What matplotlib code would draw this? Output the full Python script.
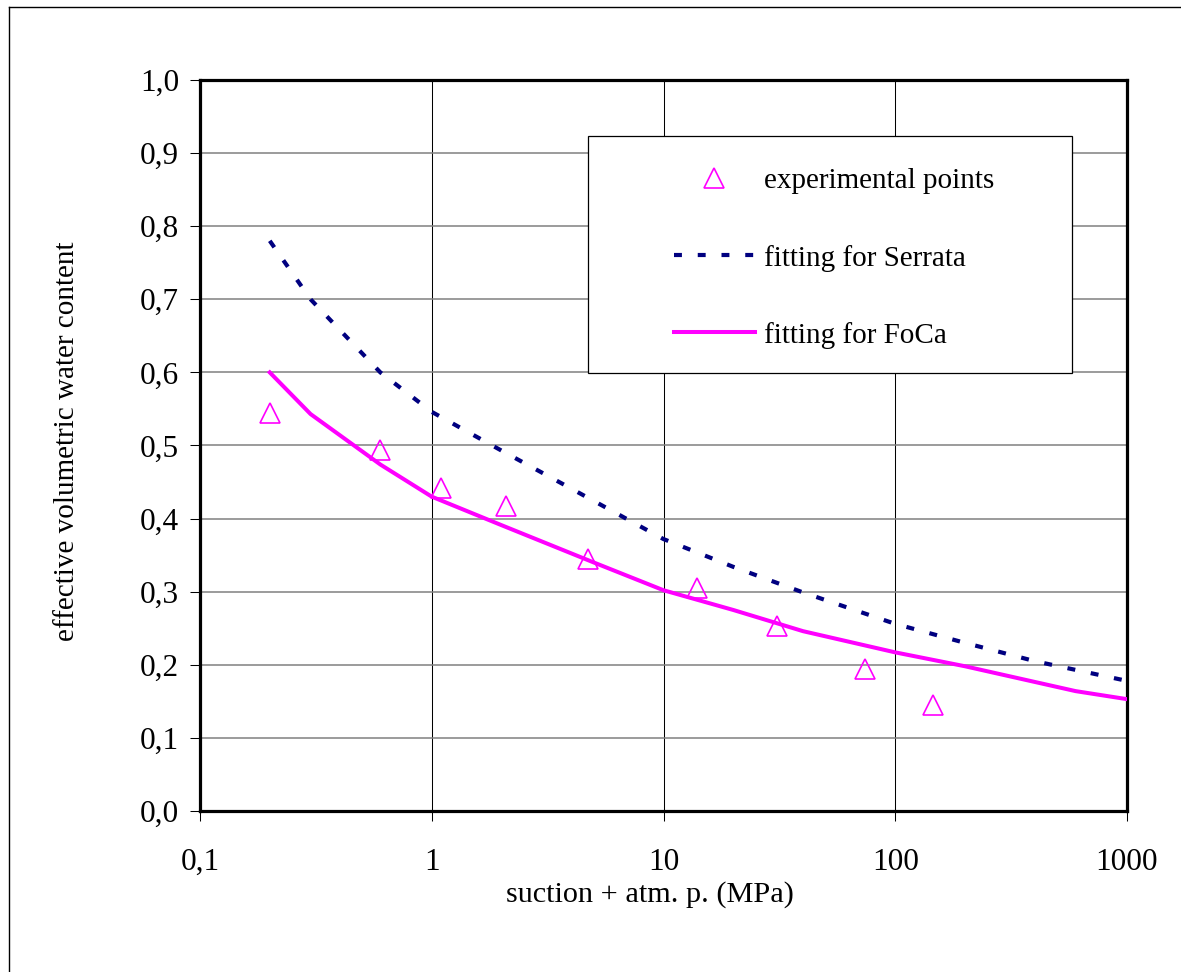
import matplotlib
matplotlib.use("Agg")
import matplotlib.pyplot as plt
from matplotlib.patches import Rectangle
from matplotlib.lines import Line2D
from matplotlib.ticker import FixedLocator, FixedFormatter, NullLocator

# --- data -------------------------------------------------------------
exp_suction = [0.2, 0.6, 1.1, 2.1, 4.7, 14.0, 31.0, 74.0, 146.0]
exp_theta = [0.545, 0.494, 0.442, 0.417, 0.345, 0.305, 0.253, 0.194, 0.145]

serrata_suction = [0.2, 0.3, 0.6, 1.0, 2.0, 4.0, 10.0, 20.0, 40.0, 100.0, 200.0, 400.0, 1000.0]
serrata_theta = [0.780, 0.700, 0.600, 0.546, 0.493, 0.441, 0.372, 0.334, 0.299, 0.256, 0.230, 0.205, 0.178]

foca_suction = [0.2, 0.3, 0.6, 1.0, 2.0, 5.0, 10.0, 20.0, 40.0, 100.0, 200.0, 600.0, 1000.0]
foca_theta = [0.600, 0.543, 0.474, 0.430, 0.391, 0.340, 0.302, 0.275, 0.246, 0.217, 0.198, 0.164, 0.153]

x_ticks = [0.1, 1, 10, 100, 1000]
x_ticklabels = ["0,1", "1", "10", "100", "1000"]
y_ticks = [0.0, 0.1, 0.2, 0.3, 0.4, 0.5, 0.6, 0.7, 0.8, 0.9, 1.0]
y_ticklabels = ["0,0", "0,1", "0,2", "0,3", "0,4", "0,5", "0,6", "0,7", "0,8", "0,9", "1,0"]

# --- figure -----------------------------------------------------------
W, H = 1181, 972
DPI = 100
plt.rcParams["font.family"] = ["Liberation Serif", "DejaVu Serif"]
FS = 21
FS_TICK = 22.5
FS_XLAB = 21.8

fig = plt.figure(figsize=(W / DPI, H / DPI), dpi=DPI)
ax = fig.add_axes([200 / W, 1 - 811 / H, 927 / W, 731 / H])

ax.set_xscale("log")
ax.set_xlim(0.1, 1000)
ax.set_ylim(0.0, 1.0)

ax.xaxis.set_major_locator(FixedLocator(x_ticks))
ax.xaxis.set_major_formatter(FixedFormatter(x_ticklabels))
ax.xaxis.set_minor_locator(NullLocator())
ax.yaxis.set_major_locator(FixedLocator(y_ticks))
ax.yaxis.set_major_formatter(FixedFormatter(y_ticklabels))

ax.tick_params(axis="both", which="major", direction="out", length=7.2,
               width=0.75, color="black", labelsize=FS_TICK)
ax.tick_params(axis="x", pad=19.5)
ax.tick_params(axis="y", pad=8)

# grid: grey horizontals, thin black verticals
ax.yaxis.grid(True, color="#808080", linewidth=1.1, zorder=0)
ax.xaxis.grid(True, color="black", linewidth=0.75, zorder=0)
ax.set_axisbelow(True)

for sp in ax.spines.values():
    sp.set_linewidth(2.3)
    sp.set_color("black")

# --- series -----------------------------------------------------------
h_exp, = ax.plot(exp_suction, exp_theta, linestyle="none", marker="^",
                 markersize=14.5, markerfacecolor="none",
                 markeredgecolor="#ff00ff", markeredgewidth=1.2,
                 label="experimental points", zorder=3)
h_ser, = ax.plot(serrata_suction, serrata_theta, color="#000080",
                 linewidth=3.0, linestyle=(0, (1.9, 3.8)),
                 dash_capstyle="butt", label="fitting for Serrata", zorder=3)
h_foc, = ax.plot(foca_suction, foca_theta, color="#ff00ff", linewidth=2.9,
                 solid_joinstyle="miter", label="fitting for FoCa", zorder=3)

# --- axis labels ------------------------------------------------------
ax.set_xlabel("suction + atm. p. (MPa)", fontsize=FS_XLAB)
ax.xaxis.set_label_coords((650 - 200) / 927, (811 - 895) / 731)
ax.xaxis.label.set_va("center")
ax.set_ylabel("effective volumetric water content", fontsize=FS)
ax.yaxis.set_label_coords((67 - 200) / 927, (811 - 441) / 731)
ax.yaxis.label.set_va("center")

# --- legend -----------------------------------------------------------
frame = Rectangle(((588 - 200) / 927, (811 - 373) / 731), 484 / 927, 237 / 731,
                  transform=ax.transAxes, facecolor="white", edgecolor="black",
                  linewidth=0.9, zorder=4)
ax.add_patch(frame)
leg = ax.legend(handles=[h_exp, h_ser, h_foc], loc="upper left",
                bbox_to_anchor=((674 - 200) / 927, (811 - 168) / 731),
                frameon=False, fontsize=FS, borderpad=0.0, borderaxespad=0.0,
                handlelength=2.77, handletextpad=0.3, labelspacing=1.72,
                numpoints=1)
leg.set_zorder(5)

# --- outer border -----------------------------------------------------
fig.add_artist(Line2D([8.5 / W, 8.5 / W], [0, 1 - 7.5 / H], color="black",
                      linewidth=1.0, transform=fig.transFigure))
fig.add_artist(Line2D([8.5 / W, 1], [1 - 7.5 / H, 1 - 7.5 / H], color="black",
                      linewidth=1.0, transform=fig.transFigure))

fig.savefig("out.png", dpi=DPI, facecolor="white")
